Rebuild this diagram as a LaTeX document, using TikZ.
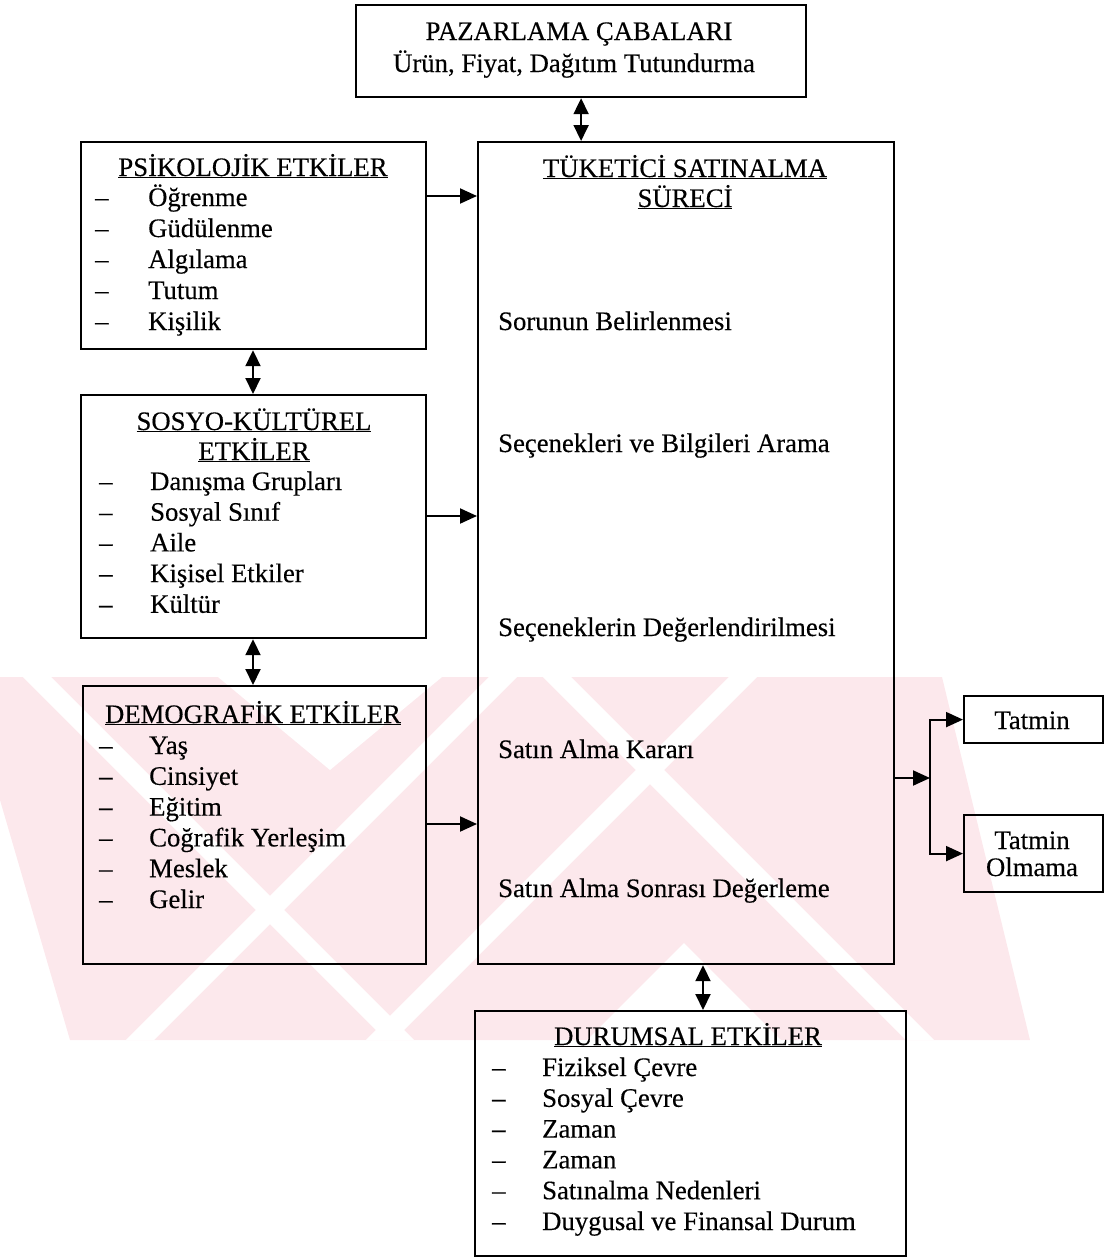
\documentclass[tikz,border=0pt]{standalone}
\usepackage{fontspec}
\setmainfont{Liberation Serif}[FakeBold=0.3]
\usetikzlibrary{arrows.meta}
\definecolor{wm}{RGB}{252,232,236}
\tikzset{
  frame/.style={draw, line width=2.2pt, anchor=north west, inner sep=0pt},
  txt/.style={anchor=base, inner sep=0pt, font=\fontsize{26.7}{31}\selectfont},
  itm/.style={anchor=base west, inner sep=0pt, font=\fontsize{26.7}{31}\selectfont},
  conn/.style={line width=2pt, -{Triangle[length=17pt,width=15pt]}},
  bothway/.style={line width=2pt, {Triangle[length=16pt,width=15pt]}-{Triangle[length=16pt,width=15pt]}},
}
\begin{document}
\begin{tikzpicture}[x=1pt,y=-1pt]
\useasboundingbox (0,0) rectangle (1105,1258);

% faint background emblem
\begin{scope}
  \clip (0,677) -- (942,677) -- (1030,1040) -- (70,1040) -- (0,800) -- cycle;
  \fill[wm] (0,600) rectangle (1105,1100);
  \fill[white] (218,677) -- (330,770) -- (442,677) -- cycle;
  \fill[white] (587,1040) -- (684,943) -- (781,1040) -- cycle;
  \draw[white, line width=20pt] (-40,600) -- (460,1100);
  \draw[white, line width=20pt] (480,600) -- (980,1100);
  \draw[white, line width=20pt] (580,600) -- (80,1100);
  \draw[white, line width=20pt] (820,600) -- (320,1100);
\end{scope}

% boxes
\node[frame, minimum width=450pt, minimum height=92pt] (mkt) at (355,4) {};
\node[frame, minimum width=416pt, minimum height=822pt] (proc) at (477,141) {};
\node[frame, minimum width=345pt, minimum height=207pt] (psi) at (80,141) {};
\node[frame, minimum width=345pt, minimum height=243pt] (sos) at (80,394) {};
\node[frame, minimum width=343pt, minimum height=278pt] (dem) at (82,685) {};
\node[frame, minimum width=139pt, minimum height=47pt] (sat) at (963,695) {};
\node[frame, minimum width=139pt, minimum height=77pt] (dis) at (963,814) {};
\node[frame, minimum width=431pt, minimum height=245pt] (dur) at (474,1010) {};

% marketing efforts
\node[txt] (mkt1) at (579,40) {PAZARLAMA ÇABALARI};
\node[txt] (mkt2) at (574,72) {Ürün, Fiyat, Dağıtım Tutundurma};

% psychological influences
\node[txt] (psiT) at (253,176) {\underline{PSİKOLOJİK ETKİLER}};
\foreach \t [count=\i] in {Öğrenme,Güdülenme,Algılama,Tutum,Kişilik}{
  \node[itm] (psid\i) at (95,{206+31*(\i-1)}) {–};
  \node[itm] (psi\i) at (148,{206+31*(\i-1)}) {\t};
}

% socio-cultural influences
\node[txt] (sosT1) at (254,430) {\underline{SOSYO-KÜLTÜREL}};
\node[txt] (sosT2) at (254,460) {\underline{ETKİLER}};
\foreach \t [count=\i] in {Danışma Grupları,Sosyal Sınıf,Aile,Kişisel Etkiler,Kültür}{
  \node[itm] (sosd\i) at (99,{490+30.7*(\i-1)}) {–};
  \node[itm] (sos\i) at (150,{490+30.7*(\i-1)}) {\t};
}

% demographic influences
\node[txt] (demT) at (253,723) {\underline{DEMOGRAFİK ETKİLER}};
\foreach \t [count=\i] in {Yaş,Cinsiyet,Eğitim,Coğrafik Yerleşim,Meslek,Gelir}{
  \node[itm] (demd\i) at (99,{754+30.8*(\i-1)}) {–};
  \node[itm] (dem\i) at (149,{754+30.8*(\i-1)}) {\t};
}

% purchase process
\node[txt] (procT1) at (685,177) {\underline{TÜKETİCİ SATINALMA}};
\node[txt] (procT2) at (685,207) {\underline{SÜRECİ}};
\node[itm] (st1) at (498,330) {Sorunun Belirlenmesi};
\node[itm] (st2) at (498,452) {Seçenekleri ve Bilgileri Arama};
\node[itm] (st3) at (498,636) {Seçeneklerin Değerlendirilmesi};
\node[itm] (st4) at (498,758) {Satın Alma Kararı};
\node[itm] (st5) at (498,897) {Satın Alma Sonrası Değerleme};

% outcomes
\node[txt] (sat1) at (1032,729) {Tatmin};
\node[txt] (dis1) at (1032,849) {Tatmin};
\node[txt] (dis2) at (1032,876) {Olmama};

% situational influences
\node[txt] (durT) at (688,1045) {\underline{DURUMSAL ETKİLER}};
\foreach \t [count=\i] in {Fiziksel Çevre,Sosyal Çevre,Zaman,Zaman,Satınalma Nedenleri,Duygusal ve Finansal Durum}{
  \node[itm] (durd\i) at (492,{1076+30.8*(\i-1)}) {–};
  \node[itm] (dur\i) at (542,{1076+30.8*(\i-1)}) {\t};
}

% connectors
\coordinate (ya) at (0,196);
\coordinate (yb) at (0,516);
\coordinate (yc) at (0,824);
\coordinate (yd) at (0,778);
\coordinate (xa) at (253,0);
\coordinate (xb) at (703,0);
\coordinate (jn) at (930,778);

\draw[bothway] (mkt.south) -- (proc.north -| mkt.south);
\draw[conn] (psi.east |- ya) -- (proc.west |- ya);
\draw[conn] (sos.east |- yb) -- (proc.west |- yb);
\draw[conn] (dem.east |- yc) -- (proc.west |- yc);
\draw[bothway] (psi.south -| xa) -- (sos.north -| xa);
\draw[bothway] (sos.south -| xa) -- (dem.north -| xa);
\draw[bothway] (proc.south -| xb) -- (dur.north -| xb);
\draw[conn] (proc.east |- yd) -- (jn);
\draw[conn] (jn) |- (sat.west);
\draw[conn] (jn) |- (dis.west);
\end{tikzpicture}
\end{document}
